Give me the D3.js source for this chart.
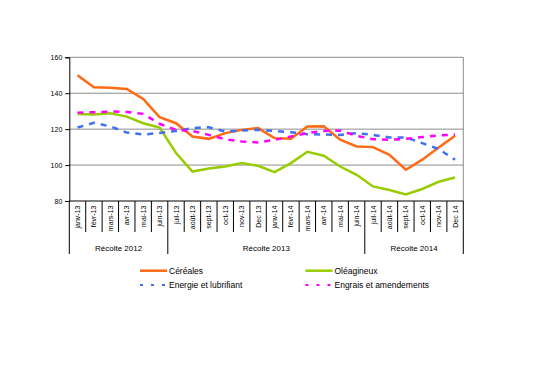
<!DOCTYPE html>
<html><head><meta charset="utf-8">
<script src="https://cdn.jsdelivr.net/npm/d3@7"></script>
<style>body{margin:0;background:#fff}svg{display:block}text{font-family:"Liberation Sans",Arial,sans-serif}</style>
</head><body>
<svg id="c" width="547" height="385"></svg>
<script>
const months = ["janv-13","févr-13","mars-13","avr-13","mai-13","juin-13","juil-13","août-13","sept-13","oct-13","nov-13","Dec 13","janv-14","févr-14","mars-14","avr-14","mai-14","juin-14","juil-14","août-14","sept-14","oct-14","nov-14","Dec 14"];
const groups = [{label:"Récolte 2012", start:0, end:6},{label:"Récolte 2013", start:6, end:18},{label:"Récolte 2014", start:18, end:24}];
const cereales = [150,143.3,143,142.4,136.8,126.7,123.3,115.9,114.6,117.8,119.6,120.6,115,114.6,121.5,121.6,114.1,110.4,110,105.7,97.4,103,109.8,116.3];
const oleagineux = [128.5,128.2,128.9,127,123.3,120.9,106.7,96.4,98.1,99.2,101.1,99.6,96.1,101.1,107.4,105.2,99.2,94.6,88.1,86.1,83.7,86.7,90.7,93.1];
const energie = [120.9,123.5,121.5,118.1,117,117.9,119,120.6,121.1,118.7,119.2,119.6,119,118.3,117.2,117,116.8,117.8,116.8,115.4,115.4,112.2,108.9,103];
const engrais = [129.2,129.4,129.8,129.6,128.5,123,119.6,119,116.8,114.4,113.1,112.6,114,115.9,117.8,119,119.2,116.3,114.4,114.1,114.6,115.6,116.5,117];
const yTicks = [80,100,120,140,160];
const series = [
  {name:"Céréales", values:cereales, color:"#FF6A13", dash:null},
  {name:"Oléagineux", values:oleagineux, color:"#99CC00", dash:null},
  {name:"Energie et lubrifiant", values:energie, color:"#3F6FF2", dash:"6,6"},
  {name:"Engrais et amendements", values:engrais, color:"#FF00FF", dash:"6,6"}
];

const svg = d3.select("#c");
const L=69.3, R=463.3, T=57.3, B=201;
const x = d3.scaleBand().domain(d3.range(months.length)).range([L,R]);
const y = d3.scaleLinear().domain([80,160]).range([B,T]);

// gridlines
svg.append("g").selectAll("line").data(yTicks.filter(v=>v>80)).join("line")
  .attr("x1",L).attr("x2",R).attr("y1",d=>y(d)).attr("y2",d=>y(d))
  .attr("stroke","#8c8c8c").attr("stroke-width",1);
// right border
svg.append("line").attr("x1",R).attr("x2",R).attr("y1",T).attr("y2",B).attr("stroke","#8c8c8c");

// y axis
const ya = svg.append("g").attr("transform",`translate(${L},0)`)
  .call(d3.axisLeft(y).tickValues(yTicks).tickSize(4).tickPadding(3));
ya.select(".domain").attr("stroke","#000");
ya.selectAll(".tick line").attr("stroke","#000");
ya.selectAll("text").attr("font-size",7).attr("fill","#000").attr("font-family","Liberation Sans, Arial, sans-serif");

// x axis baseline
svg.append("line").attr("x1",L).attr("x2",R).attr("y1",B).attr("y2",B).attr("stroke","#000");
// category separators
const bounds = d3.range(months.length+1);
const groupBounds = new Set(groups.flatMap(g=>[g.start,g.end]));
svg.append("g").selectAll("line").data(bounds).join("line")
  .attr("x1",i=>i<months.length?x(i):R).attr("x2",i=>i<months.length?x(i):R)
  .attr("y1",B).attr("y2",i=>groupBounds.has(i)?254:232)
  .attr("stroke","#000").attr("stroke-width",1);
// month labels
svg.append("g").selectAll("text").data(months).join("text")
  .attr("transform",(d,i)=>`translate(${x(i)+x.bandwidth()/2+2.5},205.5) rotate(-90)`)
  .attr("text-anchor","end").attr("font-size",7).attr("fill","#000").text(d=>d);
// group labels
svg.append("g").selectAll("text").data(groups).join("text")
  .attr("x",g=>(x(g.start)+(g.end<months.length?x(g.end):R))/2).attr("y",251)
  .attr("text-anchor","middle").attr("font-size",8).attr("fill","#000").text(g=>g.label);

// lines
const line = d3.line().x((d,i)=>x(i)+x.bandwidth()/2).y(d=>y(d));
svg.append("g").selectAll("path").data(series).join("path")
  .attr("d",s=>line(s.values)).attr("fill","none")
  .attr("stroke",s=>s.color).attr("stroke-width",2.5)
  .attr("stroke-dasharray",s=>s.dash);

// legend
const legPos = [[140,270.7],[305.5,270.7],[140,285],[305.5,285]];
const lg = svg.append("g").selectAll("g").data(series).join("g")
  .attr("transform",(s,i)=>`translate(${legPos[i][0]},${legPos[i][1]})`);
lg.append("line").attr("x1",0).attr("x2",27).attr("y1",0).attr("y2",0)
  .attr("stroke",s=>s.color).attr("stroke-width",s=>s.dash?2:2.5)
  .attr("stroke-dasharray",s=>s.dash?"3,8":null);
lg.append("text").attr("x",29).attr("y",3).attr("font-size",8.5).attr("fill","#000").text(s=>s.name);
</script>
</body></html>
